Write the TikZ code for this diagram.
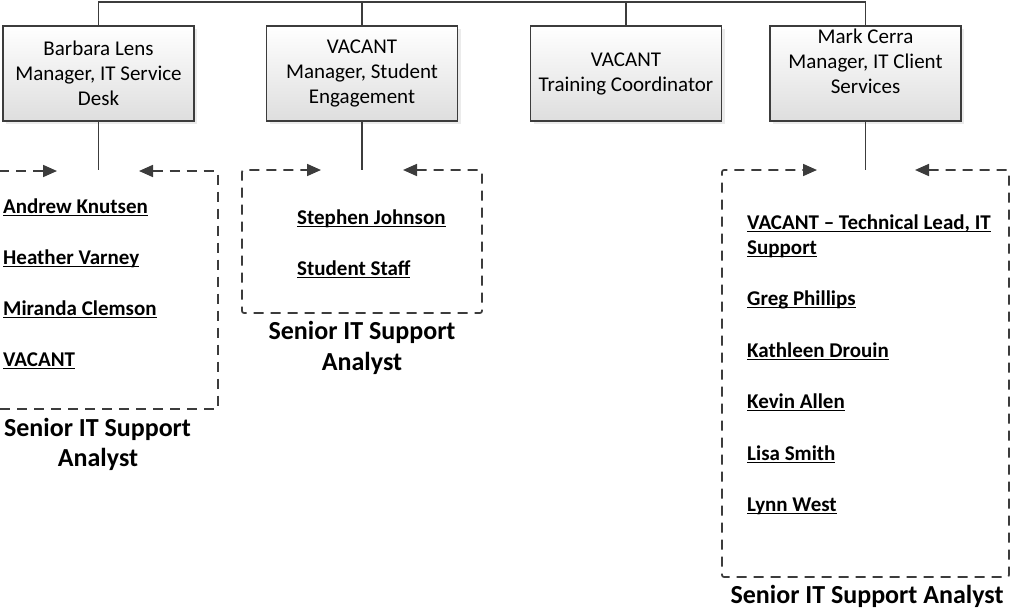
\documentclass[tikz,border=0pt]{standalone}
\usepackage{fontspec}
\setmainfont{Carlito}
\usetikzlibrary{arrows.meta,shadows}
\definecolor{ln}{HTML}{3C3C3C}
\newcommand\uln[1]{\setbox0\hbox{#1}\rlap{\rule[-3pt]{\wd0}{1.3pt}}\box0}
\tikzset{
 box/.style={draw=ln, line width=1.6pt, top color=white, bottom color=black!13,
   minimum width=191pt, minimum height=95pt, inner sep=0pt, align=center,
   font=\fontsize{21}{25}\selectfont,
   drop shadow={shadow xshift=3pt, shadow yshift=-3pt, opacity=0.2, fill=black!40}},
 conn/.style={draw=ln, line width=1.9pt},
 frame/.style={draw=ln, line width=1.7pt, dash pattern=on 10pt off 7pt, rounded corners=2pt,
   {Triangle[length=14pt,width=12pt]}-{Triangle[length=14pt,width=12pt]}},
 member/.style={anchor=base west, inner sep=0pt, font=\fontsize{21}{25}\selectfont\bfseries},
 caption/.style={anchor=base, inner sep=0pt, font=\fontsize{26}{31}\selectfont\bfseries},
}
\begin{document}
\begin{tikzpicture}[x=1pt,y=-1pt]
\useasboundingbox (0,0) rectangle (1010,608);
% manager boxes
\node[box] (b1) at (98.5,73.5) {Barbara Lens\\Manager, IT Service\\Desk};
\node[box] (b2) at (362,73.5) {VACANT\\Manager, Student\\Engagement};
\node[box] (b3) at (626,73.5) {VACANT\\Training Coordinator};
\node[box] (b4) at (865.5,73.5) {Mark Cerra\\Manager, IT Client\\Services\\\mbox{}};
% bus
\coordinate (busL) at (98.5,2);
\coordinate (busR) at (865.5,2);
\draw[conn] (b1.north) -- (busL) -- (busR) -- (b4.north);
\draw[conn] (b2.north) -- (b2.north |- busL);
\draw[conn] (b3.north) -- (b3.north |- busL);
% stems
\coordinate (s1) at (98.5,170);
\coordinate (s2) at (362,170);
\coordinate (s4) at (865.5,170);
\draw[conn] (b1.south) -- (s1);
\draw[conn] (b2.south) -- (s2);
\draw[conn] (b4.south) -- (s4);
% frame 1
\coordinate (f1tl) at (-22,171);
\coordinate (f1tr) at (218,171);
\coordinate (f1br) at (218,409);
\coordinate (f1bl) at (-22,409);
\coordinate (a1L) at (57,171);
\coordinate (a1R) at (139,171);
\draw[frame] (a1R) -- (f1tr) -- (f1br) -- (f1bl) -- (f1tl) -- (a1L);
% frame 2
\coordinate (f2tl) at (242,170);
\coordinate (f2tr) at (482,170);
\coordinate (f2br) at (482,313);
\coordinate (f2bl) at (242,313);
\coordinate (a2L) at (321,170);
\coordinate (a2R) at (403,170);
\draw[frame] (a2R) -- (f2tr) -- (f2br) -- (f2bl) -- (f2tl) -- (a2L);
% frame 3
\coordinate (f3tl) at (722,170);
\coordinate (f3tr) at (1009,170);
\coordinate (f3br) at (1009,577);
\coordinate (f3bl) at (722,577);
\coordinate (a3L) at (817,170);
\coordinate (a3R) at (915,170);
\draw[frame] (a3R) -- (f3tr) -- (f3br) -- (f3bl) -- (f3tl) -- (a3L);
% members group 1
\node[member] (m11) at (3,213) {\uln{Andrew Knutsen}};
\node[member] (m12) at (3,264) {\uln{Heather Varney}};
\node[member] (m13) at (3,315) {\uln{Miranda Clemson}};
\node[member] (m14) at (3,366) {\uln{VACANT}};
% members group 2
\node[member] (m21) at (297,224) {\uln{Stephen Johnson}};
\node[member] (m22) at (297,275) {\uln{Student Staff}};
% members group 3
\node[member] (m31) at (747,229) {\uln{VACANT – Technical Lead, IT}};
\node[member] (m31b) at (747,254) {\uln{Support}};
\node[member] (m32) at (747,305) {\uln{Greg Phillips}};
\node[member] (m33) at (747,357) {\uln{Kathleen Drouin}};
\node[member] (m34) at (747,408) {\uln{Kevin Allen}};
\node[member] (m35) at (747,460) {\uln{Lisa Smith}};
\node[member] (m36) at (747,511) {\uln{Lynn West}};
% captions
\node[caption] (c1a) at (97.5,436) {Senior IT Support};
\node[caption] (c1b) at (98,466) {Analyst};
\node[caption] (c2a) at (362,339) {Senior IT Support};
\node[caption] (c2b) at (362,370) {Analyst};
\node[caption] (c3) at (867,603) {Senior IT Support Analyst};
\end{tikzpicture}
\end{document}
